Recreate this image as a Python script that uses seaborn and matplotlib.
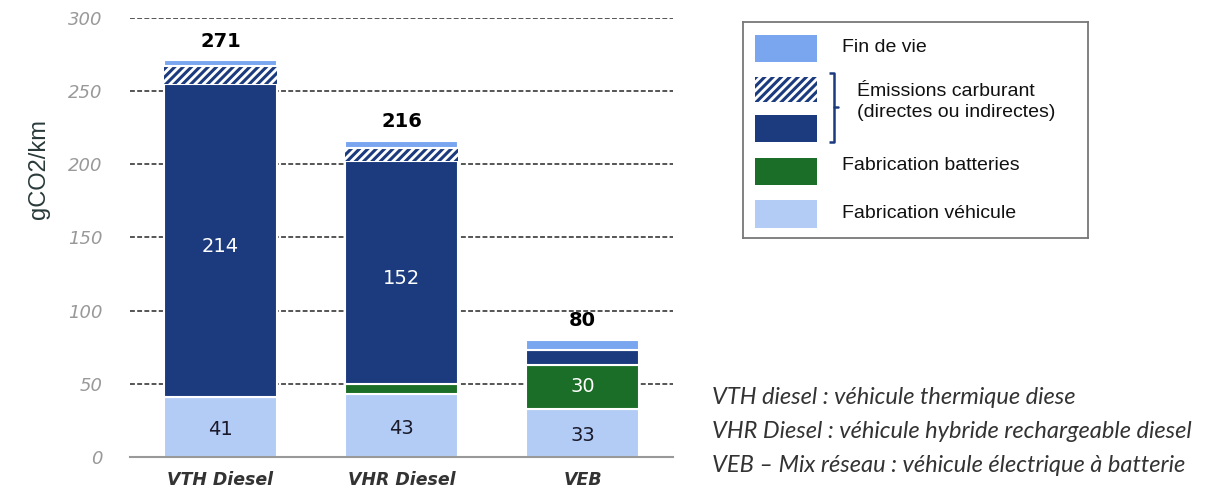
import matplotlib
matplotlib.use("Agg")
import matplotlib.pyplot as plt
import seaborn as sns
import numpy as np
from matplotlib.patches import Rectangle

# ---- data ----
categories = ["VTH Diesel", "VHR Diesel", "VEB"]
fab_vehicule = [41, 43, 33]
fab_batteries = [0, 7, 30]
carburant_plein = [214, 152, 10]
carburant_hachure = [12, 9, 0]
fin_de_vie = [4, 5, 7]
totals = [271, 216, 80]
yticks = [0, 50, 100, 150, 200, 250, 300]
inside_labels_vehicule = ["41", "43", "33"]
inside_labels_carburant = ["214", "152", ""]
inside_labels_batteries = ["", "", "30"]
legend_labels = ["Fin de vie", "Émissions carburant\n(directes ou indirectes)",
                 "Fabrication batteries", "Fabrication véhicule"]
notes = ["VTH diesel : véhicule thermique diese",
         "VHR Diesel : véhicule hybride rechargeable diesel",
         "VEB – Mix réseau : véhicule électrique à batterie"]

# ---- colours ----
c_fab = "#B3CCF6"
c_bat = "#1B6E27"
c_carb = "#1C3B7F"
c_fin = "#7AA6F0"

sns.set_theme(style="white")
plt.rcParams["font.family"] = ["DejaVu Sans"]
plt.rcParams["hatch.linewidth"] = 2.2

fig = plt.figure(figsize=(12.09, 4.92), dpi=100)
ax = fig.add_axes([130 / 1209, 1 - 457 / 492, (673 - 130) / 1209, (457 - 18) / 492])

width = 0.62
b = np.zeros(3)
layers = [
    (fab_vehicule, dict(color=c_fab, edgecolor="white", linewidth=1.5)),
    (fab_batteries, dict(color=c_bat, edgecolor="white", linewidth=1.5)),
    (carburant_plein, dict(color=c_carb, edgecolor="white", linewidth=1.5)),
    (carburant_hachure, dict(color="white", edgecolor=c_carb, linewidth=0, hatch="////")),
    (fin_de_vie, dict(color=c_fin, edgecolor="white", linewidth=1.5)),
]
bottoms = []
for vals, kw in layers:
    vals = np.array(vals, dtype=float)
    bottoms.append(b.copy())
    sns.barplot(x=categories, y=vals, bottom=b.copy(), ax=ax, width=width,
                saturation=1, zorder=3, **kw)
    b = b + vals

# inside labels
for i in range(3):
    ax.text(i, bottoms[0][i] + fab_vehicule[i] / 2 - 2, inside_labels_vehicule[i],
            ha="center", va="center", fontsize=14, color="#1a1a2a", zorder=5)
    if inside_labels_carburant[i]:
        ax.text(i, bottoms[2][i] + carburant_plein[i] / 2 - 4, inside_labels_carburant[i],
                ha="center", va="center", fontsize=14, color="white", zorder=5)
    if inside_labels_batteries[i]:
        ax.text(i, bottoms[1][i] + fab_batteries[i] / 2, inside_labels_batteries[i],
                ha="center", va="center", fontsize=14, color="white", zorder=5)
    ax.text(i, totals[i] + 13, str(totals[i]), ha="center", va="center",
            fontsize=14, fontweight="bold", color="black", zorder=5)

ax.set_xlim(-0.5, 2.5)
ax.set_ylim(0, 300)
ax.set_yticks(yticks)
ax.set_yticklabels([str(t) for t in yticks], fontsize=13, style="italic", color="#999999")
for t in yticks[1:]:
    ax.axhline(t, color="#555555", linestyle=(0, (2.5, 1.2)), linewidth=1.4, zorder=1)
ax.tick_params(axis="y", length=0, pad=20)
ax.tick_params(axis="x", length=0, pad=10)
ax.set_xticks(range(3))
ax.set_xticklabels(categories, fontsize=12.5, style="italic", fontweight="bold", color="#333333")
ax.set_xticks([-0.5, 0.5, 1.5, 2.5], minor=True)
ax.tick_params(axis="x", which="minor", length=8, width=1.2, color="#999999", direction="out")
ax.set_xlabel("")
ax.set_ylabel("")
for s in ["top", "right", "left"]:
    ax.spines[s].set_visible(False)
ax.spines["bottom"].set_color("#999999")
ax.spines["bottom"].set_linewidth(1.5)
ax.spines["bottom"].set_zorder(4)

fig.text(39 / 1209, 1 - 169 / 492, "gCO2/km", rotation=90, ha="center", va="center",
         fontsize=17, color="#2a3a3a", family=["Liberation Sans"])

# ---- legend (drawn box) ----
lx0, ly0, lx1, ly1 = 743, 22, 1088, 238
lax = fig.add_axes([lx0 / 1209, 1 - ly1 / 492, (lx1 - lx0) / 1209, (ly1 - ly0) / 492])
lax.set_xlim(lx0, lx1)
lax.set_ylim(ly1, ly0)
lax.set_xticks([])
lax.set_yticks([])
for s in lax.spines.values():
    s.set_color("#777777")
    s.set_linewidth(1.3)
sw_x, sw_w, sw_h = 755, 62, 27
lax.add_patch(Rectangle((sw_x, 35), sw_w, sw_h, facecolor=c_fin, edgecolor="none"))
lax.add_patch(Rectangle((sw_x, 77), sw_w, 25, facecolor="white", edgecolor=c_carb,
                        linewidth=0, hatch="////"))
lax.add_patch(Rectangle((sw_x, 115), sw_w, sw_h, facecolor=c_carb, edgecolor="none"))
lax.add_patch(Rectangle((sw_x, 158), sw_w, sw_h, facecolor=c_bat, edgecolor="none"))
lax.add_patch(Rectangle((sw_x, 200), sw_w, 28, facecolor=c_fab, edgecolor="none"))
# bracket
lax.plot([829, 834, 834, 829], [73, 73, 142, 142], color=c_carb, linewidth=1.8,
         solid_capstyle="butt")
lax.plot([834, 838], [107, 107], color=c_carb, linewidth=1.8)
lfont = dict(fontsize=14, color="#111111", family=["Liberation Sans"], va="center", ha="left")
lax.text(842, 47, legend_labels[0], **lfont)
lax.text(857, 102, legend_labels[1], linespacing=1.25, **lfont)
lax.text(842, 166, legend_labels[2], **lfont)
lax.text(842, 213, legend_labels[3], **lfont)

# ---- footnotes ----
for k, line in enumerate(notes):
    fig.text(712 / 1209, 1 - (397 + 34.5 * k) / 492, line, ha="left", va="center",
             fontsize=17, style="italic", color="#333333", family=["Lato", "DejaVu Sans"])

fig.savefig("out.png", dpi=100)
